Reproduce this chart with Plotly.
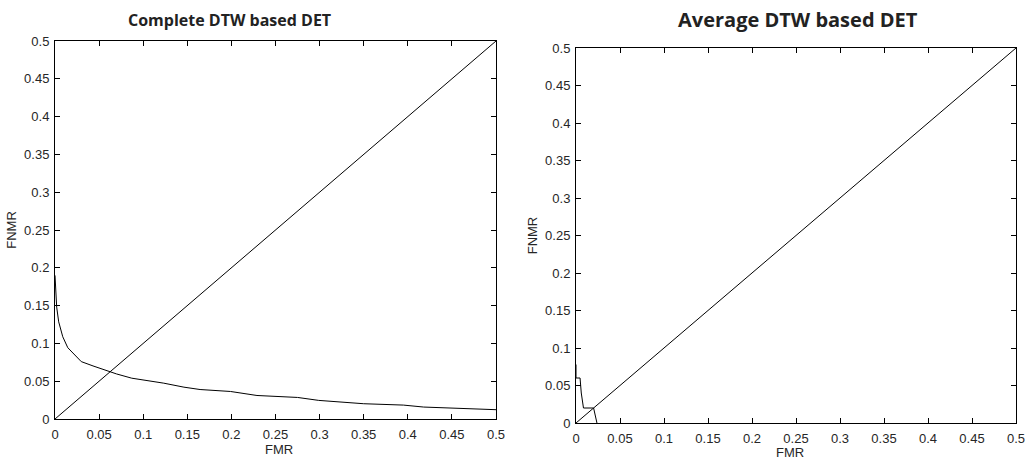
import plotly.graph_objects as go

# ---- data ----
tick_vals = [0, 0.05, 0.1, 0.15, 0.2, 0.25, 0.3, 0.35, 0.4, 0.45, 0.5]
tick_text = ["0", "0.05", "0.1", "0.15", "0.2", "0.25", "0.3", "0.35", "0.4", "0.45", "0.5"]

diag_x = [0, 0.5]
diag_y = [0, 0.5]

complete_fmr = [0, 0.0008, 0.0019, 0.0042, 0.0088, 0.0145, 0.0221, 0.0298, 0.0431, 0.0603,
                0.0698, 0.087, 0.1004, 0.1233, 0.1462, 0.1645, 0.199, 0.229, 0.275, 0.299,
                0.35, 0.395, 0.418, 0.456, 0.5]
complete_fnmr = [0.19, 0.166, 0.148, 0.1285, 0.1088, 0.0943, 0.0855, 0.0759, 0.0702, 0.0627,
                 0.0596, 0.054, 0.0518, 0.0474, 0.0421, 0.0390, 0.0364, 0.0311, 0.0285, 0.0246,
                 0.0202, 0.0184, 0.0158, 0.0145, 0.0123]

average_fmr = [0, 0, 0.0046, 0.006, 0.0085, 0.020, 0.0238]
average_fnmr = [0.078, 0.06, 0.06, 0.04, 0.02, 0.02, 0.0]

titles = ["Complete DTW based DET", "Average DTW based DET"]
x_label = "FMR"
y_label = "FNMR"

W, H = 1028, 462

fig = go.Figure()
line = dict(color="black", width=1)
fig.add_trace(go.Scatter(x=diag_x, y=diag_y, mode="lines", line=line, xaxis="x", yaxis="y", showlegend=False))
fig.add_trace(go.Scatter(x=complete_fmr, y=complete_fnmr, mode="lines", line=line, xaxis="x", yaxis="y", showlegend=False))
fig.add_trace(go.Scatter(x=diag_x, y=diag_y, mode="lines", line=line, xaxis="x2", yaxis="y2", showlegend=False))
fig.add_trace(go.Scatter(x=average_fmr, y=average_fnmr, mode="lines", line=line, xaxis="x2", yaxis="y2", showlegend=False))

tickfont = dict(family="Liberation Sans, Arial, sans-serif", size=13, color="#262626")
labelfont = dict(family="Liberation Sans, Arial, sans-serif", size=13, color="#262626")


def axis(domain, anchor, title, standoff, label_standoff):
    d = dict(domain=domain, anchor=anchor, range=[0, 0.5], tickmode="array",
             tickvals=tick_vals, ticktext=tick_text, ticks="inside", ticklen=5,
             tickcolor="black", showline=True, linecolor="black", linewidth=1,
             mirror="allticks", showgrid=False, zeroline=False, tickfont=tickfont,
             ticklabelstandoff=label_standoff, automargin=False)
    if title:
        d["title"] = dict(text=title, font=labelfont, standoff=standoff)
    return d


ldx = [55 / W, 496 / W]
ldy = [1 - 419 / H, 1 - 41 / H]
rdx = [576 / W, 1016 / W]
rdy = [1 - 423 / H, 1 - 48 / H]


def paper_note(text, px, py, font, angle=0):
    return dict(text=text, x=px / W, y=1 - py / H, xref="paper", yref="paper",
                showarrow=False, xanchor="center", yanchor="middle", textangle=angle, font=font)


fig.update_layout(
    width=W, height=H,
    margin=dict(l=0, r=0, t=0, b=0),
    paper_bgcolor="white", plot_bgcolor="white",
    xaxis=axis(ldx, "y", None, 0, 3),
    yaxis=axis(ldy, "x", y_label, 4, 2),
    xaxis2=axis(rdx, "y2", None, 0, 3),
    yaxis2=axis(rdy, "x2", y_label, 4, 2),
    annotations=[
        paper_note("<b>" + titles[0] + "</b>", 229, 20,
                   dict(family="Open Sans, sans-serif", size=16, color="#222222")),
        paper_note("<b>" + titles[1] + "</b>", 798, 20,
                   dict(family="Open Sans, sans-serif", size=20, color="#222222")),
        paper_note(x_label, 279, 449, labelfont),
        paper_note(x_label, 790, 452, labelfont),
    ],
)

fig.write_html(
    "out.html",
    config={"displayModeBar": False},
    post_script="document.body.style.margin='0';document.body.style.padding='0';"
                "document.body.style.overflow='hidden';",
)
